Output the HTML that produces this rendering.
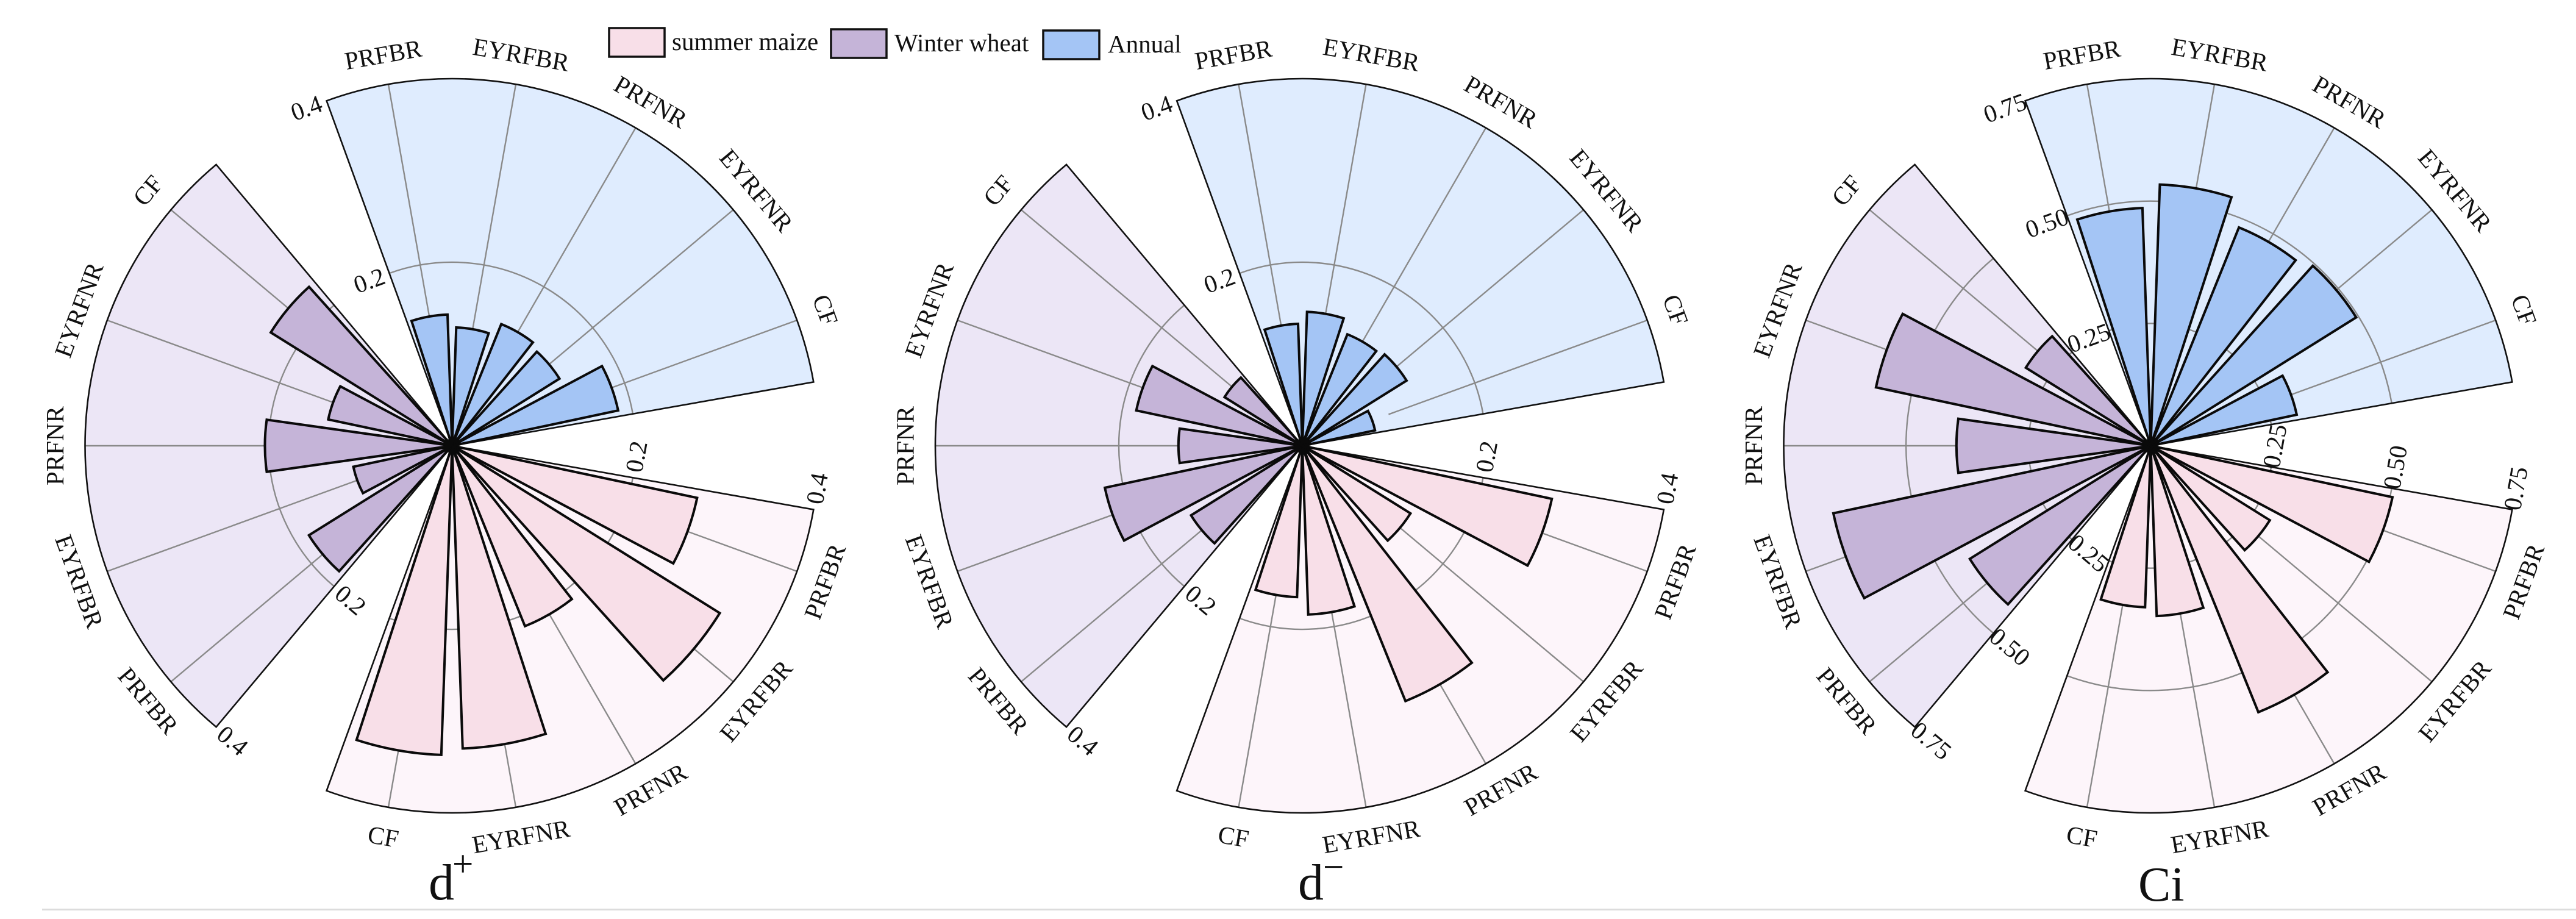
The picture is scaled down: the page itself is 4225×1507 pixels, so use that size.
<!DOCTYPE html>
<html lang="en">
<head>
<meta charset="utf-8">
<title>Polar bar charts of d+, d- and Ci</title>
<style>
html,body{margin:0;padding:0;background:#fff;}
svg{display:block;}
text{font-family:"Liberation Serif","Times New Roman",serif;fill:#111;}
</style>
</head>
<body>
<svg id="figure" xmlns="http://www.w3.org/2000/svg" width="4225" height="1507" viewBox="0 0 4225 1507">
  <rect x="0" y="0" width="4225" height="1507" fill="#ffffff"/>
  <rect x="69" y="1490" width="4156" height="3" fill="#dcdcdc"/>
  <g id="charts"></g>

  <g>
    <g>
      <rect x="999" y="46" width="91" height="47" fill="#f8dfe8" stroke="#111" stroke-width="3.5"/>
      <text x="1102" y="82" font-size="41">summer maize</text>
    </g>
    <g>
      <rect x="1363" y="48" width="91" height="47" fill="#c5b4d8" stroke="#111" stroke-width="3.5"/>
      <text x="1467" y="84" font-size="41">Winter wheat</text>
    </g>
    <g>
      <rect x="1711" y="50" width="92" height="47" fill="#a4c5f5" stroke="#111" stroke-width="3.5"/>
      <text x="1817" y="86" font-size="41">Annual</text>
    </g>
  </g>

  <g>
    <text x="703" y="1475" font-size="84">d</text>
    <text x="742" y="1437" font-size="61">+</text>
  </g>
  <g>
    <text x="2129" y="1475" font-size="84">d</text>
    <text x="2170" y="1442" font-size="61">&#8722;</text>
  </g>
  <text x="3507" y="1477" font-size="80">Ci</text>
</svg>

<script>
// ---- chart data ----
const categories = ['PRFBR', 'EYRFBR', 'PRFNR', 'EYRFNR', 'CF'];

const dPlusTickLabels = ['0.2', '0.4'];
const dPlusAnnual = [0.143, 0.129, 0.143, 0.138, 0.185];
const dPlusMaize = [0.273, 0.344, 0.212, 0.330, 0.337];
const dPlusWheat = [0.184, 0.110, 0.204, 0.138, 0.233];

const dMinusTickLabels = ['0.2', '0.4'];
const dMinusAnnual = [0.133, 0.146, 0.131, 0.134, 0.081];
const dMinusMaize = [0.278, 0.139, 0.300, 0.184, 0.165];
const dMinusWheat = [0.143, 0.220, 0.135, 0.185, 0.100];

const ciTickLabels = ['0.25', '0.50', '0.75'];
const ciAnnual = [0.486, 0.534, 0.481, 0.495, 0.305];
const ciMaize = [0.505, 0.287, 0.587, 0.348, 0.330];
const ciWheat = [0.436, 0.663, 0.397, 0.574, 0.301];

// ---- drawing ----
const SVG_NS = 'http://www.w3.org/2000/svg';
const OUTER_RADIUS = 602;
const LABEL_RADIUS = 651;
const SPOKE_START = 0.25;
const SLOT_DEGREES = 20;
const BAR_DEGREES = 16;
const root = document.getElementById('charts');

function shape(tag, parent, props) {
  const el = document.createElementNS(SVG_NS, tag);
  for (const key in props) {
    el.setAttribute(key, props[key]);
  }
  parent.appendChild(el);
  return el;
}
function polar(cx, cy, radius, degrees) {
  const t = degrees * Math.PI / 180;
  return [cx + radius * Math.sin(t), cy - radius * Math.cos(t)];
}
function textRotation(degrees) {
  return (degrees > 90 && degrees < 270) ? degrees - 180 : degrees;
}
function wedge(cx, cy, radius, from, to) {
  const a = polar(cx, cy, radius, from);
  const b = polar(cx, cy, radius, to);
  const large = (to - from) > 180 ? 1 : 0;
  return 'M' + cx + ' ' + cy + 'L' + a[0].toFixed(2) + ' ' + a[1].toFixed(2) +
    'A' + radius + ' ' + radius + ' 0 ' + large + ' 1 ' + b[0].toFixed(2) + ' ' + b[1].toFixed(2) + 'Z';
}
function arc(cx, cy, radius, from, to) {
  const a = polar(cx, cy, radius, from);
  const b = polar(cx, cy, radius, to);
  return 'M' + a[0].toFixed(2) + ' ' + a[1].toFixed(2) +
    'A' + radius + ' ' + radius + ' 0 0 1 ' + b[0].toFixed(2) + ' ' + b[1].toFixed(2);
}

function drawSector(layer, barLayer, cx, cy, chartKey, seriesKey, startAngle, values, tickLabels, sectorFill, barFill) {
  const axisMax = Number(tickLabels[tickLabels.length - 1]);
  const radiusScale = function (v) { return OUTER_RADIUS * v / axisMax; };
  const angleScale = function (i) { return startAngle + SLOT_DEGREES * i + SLOT_DEGREES / 2; };
  const endAngle = startAngle + SLOT_DEGREES * categories.length;

  const sector = shape('path', layer, { d: wedge(cx, cy, OUTER_RADIUS, startAngle, endAngle), fill: sectorFill });
  
  

  categories.forEach(function (name, i) {
    const angle = angleScale(i);
    const p0 = polar(cx, cy, OUTER_RADIUS * SPOKE_START, angle);
    const p1 = polar(cx, cy, OUTER_RADIUS, angle);
    const spoke = shape('line', layer, { x1: p0[0], y1: p0[1], x2: p1[0], y2: p1[1], stroke: '#8a8a8a', 'stroke-width': 2.4 });
    
    

    const lp = polar(cx, cy, LABEL_RADIUS, angle);
    const label = shape('text', layer, {
      x: lp[0], y: lp[1], dy: '0.33em', 'text-anchor': 'middle', 'font-size': 41,
      transform: 'rotate(' + textRotation(angle) + ' ' + lp[0] + ' ' + lp[1] + ')'
    });
    label.textContent = name;
    
    
  });

  tickLabels.forEach(function (tick) {
    const r = radiusScale(Number(tick));
    if (Number(tick) < axisMax) {
      const ring = shape('path', layer, { d: arc(cx, cy, r, startAngle, endAngle), fill: 'none', stroke: '#8a8a8a', 'stroke-width': 2.4 });
      
      
    }
    const base = polar(cx, cy, r, startAngle);
    const t = startAngle * Math.PI / 180;
    const tx = base[0] - 35 * Math.cos(t);
    const ty = base[1] - 35 * Math.sin(t);
    const tickText = shape('text', layer, {
      x: tx, y: ty, dy: '0.33em', 'text-anchor': 'middle', 'font-size': 41,
      transform: 'rotate(' + textRotation(startAngle) + ' ' + tx + ' ' + ty + ')'
    });
    tickText.textContent = tick;
    
    
  });

  const outline = shape('path', layer, { d: wedge(cx, cy, OUTER_RADIUS, startAngle, endAngle), fill: 'none', stroke: '#111', 'stroke-width': 2.6 });
  
  

  values.forEach(function (value, i) {
    const angle = angleScale(i);
    const bar = shape('path', barLayer, {
      d: wedge(cx, cy, radiusScale(value), angle - BAR_DEGREES / 2, angle + BAR_DEGREES / 2),
      fill: barFill, stroke: '#0a0a0a', 'stroke-width': 4, 'stroke-linejoin': 'miter', 'stroke-miterlimit': 10
    });
    
    
  });
}

function drawChart(chartKey, cx, cy, tickLabels, annual, maize, wheat) {
  const group = shape('g', root, {});
  
  
  const layer = shape('g', group, {});
  
  
  const barLayer = shape('g', group, {});
  
  
  drawSector(layer, barLayer, cx, cy, chartKey, 'annual', -20, annual, tickLabels, '#dfecfe', '#a4c5f5');
  drawSector(layer, barLayer, cx, cy, chartKey, 'maize', 100, maize, tickLabels, '#fdf5fa', '#f8dfe8');
  drawSector(layer, barLayer, cx, cy, chartKey, 'wheat', 220, wheat, tickLabels, '#ece6f6', '#c5b4d8');
}

drawChart('d-plus', 741.5, 731, dPlusTickLabels, dPlusAnnual, dPlusMaize, dPlusWheat);
drawChart('d-minus', 2136, 731, dMinusTickLabels, dMinusAnnual, dMinusMaize, dMinusWheat);
drawChart('ci', 3527.5, 731, ciTickLabels, ciAnnual, ciMaize, ciWheat);
</script>
</body>
</html>
